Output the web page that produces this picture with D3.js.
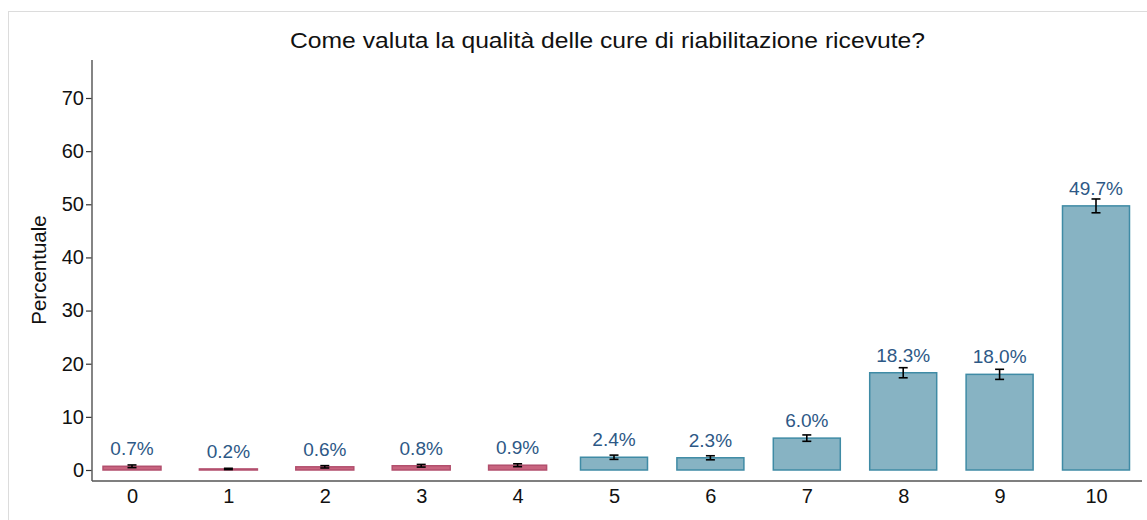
<!DOCTYPE html>
<html><head><meta charset="utf-8">
<script src="https://cdn.jsdelivr.net/npm/d3@7"></script>
<style>body{margin:0;background:#fff}svg{display:block;font-family:"Liberation Sans",Arial,sans-serif}</style>
</head><body><svg id="c" width="1147" height="520"></svg>
<script>
const categories = ["0","1","2","3","4","5","6","7","8","9","10"];
const values = [0.7,0.2,0.6,0.8,0.9,2.4,2.3,6.0,18.3,18.0,49.7];
const errors = [0.25,0.12,0.22,0.25,0.27,0.4,0.38,0.6,0.95,0.95,1.3];
const groups = ["low","low","low","low","low","high","high","high","high","high","high"];
const yTicks = [0,10,20,30,40,50,60,70];
const title = "Come valuta la qualità delle cure di riabilitazione ricevute?";
const yTitle = "Percentuale";

const svg = d3.select("#c");
const fillC = {low:"#c8647f", high:"#87b3c3"};
const strokeC = {low:"#b24f6d", high:"#3f8ba5"};
const barW = {low:58, high:67};

// frame
svg.append("rect").attr("x",8.5).attr("y",11.5).attr("width",1160).attr("height",540)
  .attr("fill","none").attr("stroke","#dcdcdc").attr("stroke-width",1);

const y = d3.scaleLinear().domain([0,70]).range([470,98]);
const x = d3.scalePoint().domain(categories).range([132,1096]);
const axX = 92, axBottom = 481, axTop = 60, axRight = 1142;

// y axis
const yAxis = svg.append("g").attr("transform",`translate(${axX},0)`)
  .call(d3.axisLeft(y).tickValues(yTicks).tickSize(6).tickPadding(2));
yAxis.select(".domain").remove();
yAxis.selectAll(".tick line").attr("stroke","#333").attr("stroke-width",1.2);
yAxis.selectAll(".tick text").attr("font-size",20).attr("fill","#111").attr("font-family","Liberation Sans, Arial, sans-serif");
svg.append("line").attr("x1",axX).attr("x2",axX).attr("y1",axTop).attr("y2",axBottom)
  .attr("stroke","#666").attr("stroke-width",1.6);

// x axis
const xAxis = svg.append("g").attr("transform",`translate(0,${axBottom})`)
  .call(d3.axisBottom(x).tickSize(0).tickPadding(8));
xAxis.select(".domain").remove();
xAxis.selectAll(".tick text").attr("font-size",20).attr("fill","#111").attr("font-family","Liberation Sans, Arial, sans-serif");
svg.append("line").attr("x1",axX).attr("x2",axRight).attr("y1",axBottom).attr("y2",axBottom)
  .attr("stroke","#555").attr("stroke-width",1.6);

const data = categories.map((c,i)=>({c, v:values[i], e:errors[i], g:groups[i]}));

// bars
svg.append("g").selectAll("rect").data(data).join("rect")
  .attr("x",d=>x(d.c)-barW[d.g]/2).attr("width",d=>barW[d.g])
  .attr("y",d=>y(d.v)).attr("height",d=>Math.max(y(0)-y(d.v),1))
  .attr("fill",d=>fillC[d.g]).attr("stroke",d=>strokeC[d.g]).attr("stroke-width",1.5);

// error bars
const eg = svg.append("g").attr("stroke","#000").attr("stroke-width",1.6);
data.forEach(d=>{
  const cx = x(d.c);
  eg.append("line").attr("x1",cx).attr("x2",cx).attr("y1",y(d.v+d.e)).attr("y2",y(d.v-d.e));
  eg.append("line").attr("x1",cx-4.5).attr("x2",cx+4.5).attr("y1",y(d.v+d.e)).attr("y2",y(d.v+d.e));
  eg.append("line").attr("x1",cx-4.5).attr("x2",cx+4.5).attr("y1",y(d.v-d.e)).attr("y2",y(d.v-d.e));
});

// labels
svg.append("g").selectAll("text").data(data).join("text")
  .attr("x",d=>x(d.c)).attr("y",d=>y(d.v)-11)
  .attr("text-anchor","middle").attr("font-size",19).attr("fill","#2d5886")
  .text(d=>d.v.toFixed(1)+"%");

// title
svg.append("text").attr("x",607.5).attr("y",48).attr("text-anchor","middle")
  .attr("font-size",22).attr("fill","#111")
  .attr("textLength",635).attr("lengthAdjust","spacingAndGlyphs").text(title);

// y title
svg.append("text").attr("transform","translate(46,270) rotate(-90)").attr("text-anchor","middle")
  .attr("font-size",20.5).attr("fill","#111").text(yTitle);
</script></body></html>
